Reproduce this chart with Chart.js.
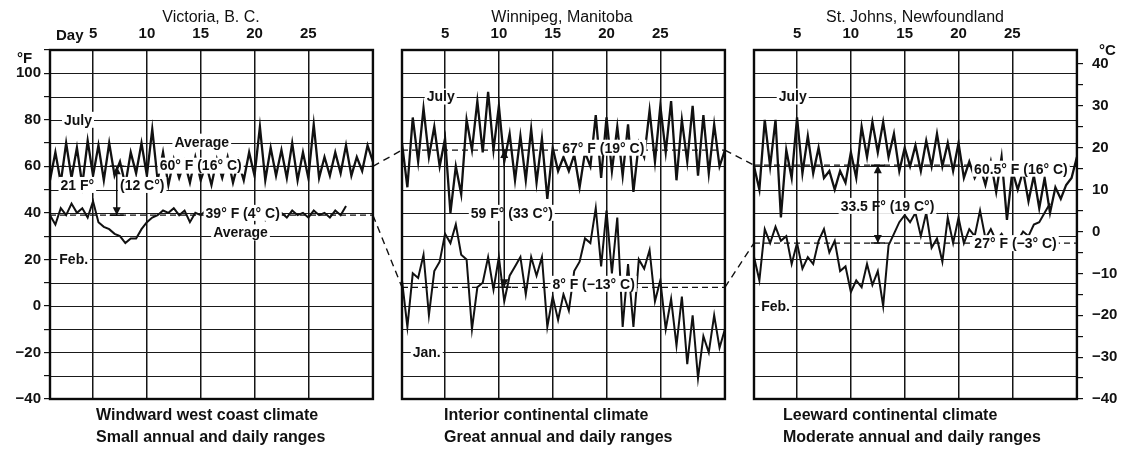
<!DOCTYPE html>
<html><head><meta charset="utf-8">
<script src="https://cdn.jsdelivr.net/npm/chart.js@4/dist/chart.umd.min.js"></script>
<style>
html,body{margin:0;padding:0;background:#fff;}
#wrap{position:relative;width:1132px;height:451px;font-family:"Liberation Sans",Arial,sans-serif;color:#111;overflow:hidden;}
#c{position:absolute;left:0;top:0;}
.t{position:absolute;white-space:nowrap;font-size:14px;line-height:16px;}
.title{transform:translateX(-50%);top:8px;font-size:16px;line-height:18px;}
.cap{font-size:16px;line-height:18px;font-weight:bold;}
.unit{font-size:15px;font-weight:bold;}
</style></head><body>
<div id="wrap">
<canvas id="c" width="1132" height="451"></canvas>
<div class="t title" style="left:211px">Victoria, B. C.</div>
<div class="t title" style="left:562px">Winnipeg, Manitoba</div>
<div class="t title" style="left:915px">St. Johns, Newfoundland</div>
<div class="t" style="left:56px;top:27px;font-size:15px;font-weight:bold">Day</div>
<div class="t unit" style="left:17px;top:50px">°F</div>
<div class="t unit" style="left:1099px;top:42px">°C</div>
<div class="t cap" style="left:96px;top:406px">Windward west coast climate</div>
<div class="t cap" style="left:96px;top:428px">Small annual and daily ranges</div>
<div class="t cap" style="left:444px;top:406px">Interior continental climate</div>
<div class="t cap" style="left:444px;top:428px">Great annual and daily ranges</div>
<div class="t cap" style="left:783px;top:406px">Leeward continental climate</div>
<div class="t cap" style="left:783px;top:428px">Moderate annual and daily ranges</div>
</div>
<script>
// ---- data (°F), two readings per day (alternating daily high / low) ----
const stations = ['Victoria, B. C.', 'Winnipeg, Manitoba', 'St. Johns, Newfoundland'];
const dayTicks = [5, 10, 15, 20, 25];
const leftTicksF = [100, 80, 60, 40, 20, 0, -20, -40];
const rightTicksC = [40, 30, 20, 10, 0, -10, -20, -30, -40];

const victoriaJuly = [54,66,53,70,55,68,52,71,56,69,
  54,70,56,62,52,66,57,70,56,76,
  54,66,52,63,55,62,53,64,54,61,
  52,63,55,64,53,62,54,66,56,77,
  54,68,56,67,55,70,54,66,55,78,
  55,64,56,66,57,69,56,64,58,69,
  62];
const victoriaFeb = [39,35,42,39,44,40,42,38,45,36,
  34,33,31,30,27,29,29,33,36,38,
  39,41,40,42,39,41,36,40,39,41,
  38,40,39,41,38,42,39,41,38,42,
  37,41,39,40,38,41,39,40,38,41,
  39,40,38,41,39,43];
const winnipegJuly = [70,51,81,62,85,64,77,60,72,40,
  60,48,80,67,88,66,92,67,86,62,
  74,54,73,54,76,53,72,46,68,58,
  64,58,65,51,66,60,82,55,81,58,
  77,56,78,49,70,64,84,62,86,66,
  88,54,80,62,86,56,82,57,78,60,
  67];
const winnipegJan = [11,-9,14,12,22,-4,15,19,31,27,
  35,22,20,-10,8,10,21,7,21,2,
  13,17,21,5,21,13,21,-9,4,-6,
  5,-2,15,19,29,27,42,17,41,14,
  38,-9,18,-9,20,16,24,2,11,-10,
  3,-17,4,-25,-4,-31,-13,-20,-4,-18,
  -10];
const stJohnsJuly = [60,50,80,60,80,38,67,55,81,57,
  73,57,68,55,58,50,58,53,66,55,
  77,64,79,66,79,64,74,58,68,60,
  69,58,71,60,74,60,70,58,70,55,
  62,55,60,52,62,49,64,37,58,50,
  58,45,56,42,55,40,51,46,52,55,
  64];
const stJohnsFeb = [21,11,33,27,34,28,30,18,27,16,
  21,18,28,33,23,28,15,17,6,11,
  8,18,9,15,0,26,31,36,39,36,
  40,30,40,25,29,19,38,27,38,27,
  33,30,41,29,33,28,31,27,30,28,
  32,30,35,36,40,44];
const summerSeries = [victoriaJuly, winnipegJuly, stJohnsJuly];
const winterSeries = [victoriaFeb, winnipegJan, stJohnsFeb];
const summerAverage = [60, 67, 60.5];
const winterAverage = [39, 8, 27];

// ---- layout ----
const OFFSETS = [0, 32.7, 65.4];
const FIRST_DAY = 1, LAST_DAY = 31;
const gx = (p, d) => d + OFFSETS[p];
const pts = (p, vals) => vals.map((v, i) => ({x: gx(p, FIRST_DAY + i * 0.5), y: v}));

const notes = [
  {p:0, d:3.6, v:80, text:'July'},
  {p:0, d:15.1, v:70.6, text:'Average'},
  {p:0, d:15.0, v:60.3, text:'60° F (16° C)'},
  {p:0, d:5.1, v:52, text:'21 F°', align:'right'},
  {p:0, d:7.5, v:52, text:'(12 C°)', align:'left'},
  {p:0, d:18.9, v:40, text:'39° F (4° C)'},
  {p:0, d:18.7, v:31.6, text:'Average'},
  {p:0, d:3.2, v:20, text:'Feb.'},
  {p:1, d:4.6, v:90, text:'July'},
  {p:1, d:19.7, v:68, text:'67° F (19° C)'},
  {p:1, d:11.2, v:40, text:'59 F° (33 C°)'},
  {p:1, d:18.8, v:9.5, text:'8° F (−13° C)'},
  {p:1, d:3.3, v:-20, text:'Jan.'},
  {p:2, d:4.6, v:90, text:'July'},
  {p:2, d:25.8, v:59, text:'60.5° F (16° C)'},
  {p:2, d:13.4, v:43, text:'33.5 F° (19 C°)'},
  {p:2, d:25.3, v:27, text:'27° F (−3° C)'},
  {p:2, d:3.0, v:0, text:'Feb.'}
];
const arrowDays = [7.2, 10.5, 12.5];

const datasets = [];
const ink = '#111111';
for (let p = 0; p < 3; p++) {
  datasets.push({label: stations[p] + ' July', data: pts(p, summerSeries[p]), borderColor: ink, borderWidth: 2.3});
  datasets.push({label: stations[p] + (p === 1 ? ' Jan.' : ' Feb.'), data: pts(p, winterSeries[p]), borderColor: ink, borderWidth: 2});
  datasets.push({label: 'avg s' + p, data: [{x: gx(p, FIRST_DAY), y: summerAverage[p]}, {x: gx(p, LAST_DAY), y: summerAverage[p]}], borderColor: ink, borderWidth: 1.3, borderDash: [6, 4]});
  datasets.push({label: 'avg w' + p, data: [{x: gx(p, FIRST_DAY), y: winterAverage[p]}, {x: gx(p, LAST_DAY), y: winterAverage[p]}], borderColor: ink, borderWidth: 1.3, borderDash: [6, 4]});
}
for (let p = 0; p < 2; p++) {
  datasets.push({label: 'link s' + p, data: [{x: gx(p, LAST_DAY), y: summerAverage[p]}, {x: gx(p + 1, FIRST_DAY), y: summerAverage[p + 1]}], borderColor: ink, borderWidth: 1.4, borderDash: [7, 5]});
  datasets.push({label: 'link w' + p, data: [{x: gx(p, LAST_DAY), y: winterAverage[p]}, {x: gx(p + 1, FIRST_DAY), y: winterAverage[p + 1]}], borderColor: ink, borderWidth: 1.4, borderDash: [7, 5]});
}

const xTicks = [];
for (let p = 0; p < 3; p++) dayTicks.forEach(d => xTicks.push({value: gx(p, d), label: String(d)}));

const labelFont = 'bold 14px "Liberation Sans", Arial, sans-serif';
const tickFont = {family: '"Liberation Sans", Arial, sans-serif', size: 15, weight: 'bold'};

const panelPlugin = {
  id: 'panels',
  beforeDatasetsDraw(chart) {
    const {ctx, scales: {x, y}} = chart;
    ctx.save();
    ctx.strokeStyle = '#1a1a1a';
    ctx.lineWidth = 1.2;
    for (let p = 0; p < 3; p++) {
      const l = x.getPixelForValue(gx(p, FIRST_DAY)), r = x.getPixelForValue(gx(p, LAST_DAY));
      for (let v = -30; v <= 100; v += 10) {
        const py = Math.round(y.getPixelForValue(v)) + 0.5;
        ctx.beginPath(); ctx.moveTo(l, py); ctx.lineTo(r, py); ctx.stroke();
      }
    }
    ctx.restore();
  },
  afterDatasetsDraw(chart) {
    const {ctx, scales: {x, y}} = chart;
    ctx.save();
    ctx.font = labelFont;
    ctx.textBaseline = 'middle';
    notes.forEach(n => {
      const px = x.getPixelForValue(gx(n.p, n.d)), py = y.getPixelForValue(n.v);
      const w = ctx.measureText(n.text).width;
      let left = px - w / 2;
      if (n.align === 'left') left = px;
      if (n.align === 'right') left = px - w;
      ctx.fillStyle = '#fff';
      ctx.fillRect(left - 2, py - 8, w + 4, 16);
      ctx.fillStyle = ink;
      ctx.textAlign = 'left';
      ctx.fillText(n.text, left, py + 1);
    });
    // range arrows between the two averages
    ctx.strokeStyle = ink; ctx.fillStyle = ink; ctx.lineWidth = 1.5;
    arrowDays.forEach((d, p) => {
      const px = x.getPixelForValue(gx(p, d));
      const top = y.getPixelForValue(summerAverage[p]), bot = y.getPixelForValue(winterAverage[p]);
      ctx.beginPath(); ctx.moveTo(px, top); ctx.lineTo(px, bot); ctx.stroke();
      ctx.beginPath(); ctx.moveTo(px, top); ctx.lineTo(px - 4, top + 8); ctx.lineTo(px + 4, top + 8); ctx.closePath(); ctx.fill();
      ctx.beginPath(); ctx.moveTo(px, bot); ctx.lineTo(px - 4, bot - 8); ctx.lineTo(px + 4, bot - 8); ctx.closePath(); ctx.fill();
      ctx.beginPath(); ctx.moveTo(px - 7, top); ctx.lineTo(px + 7, top); ctx.moveTo(px - 7, bot); ctx.lineTo(px + 7, bot); ctx.stroke();
    });
    // panel frames
    ctx.lineWidth = 2.4; ctx.strokeStyle = '#0a0a0a';
    for (let p = 0; p < 3; p++) {
      const l = x.getPixelForValue(gx(p, FIRST_DAY)), r = x.getPixelForValue(gx(p, LAST_DAY));
      const t = y.getPixelForValue(y.max), b = y.getPixelForValue(y.min);
      ctx.strokeRect(l, t, r - l, b - t);
    }
    ctx.restore();
  }
};

new Chart(document.getElementById('c'), {
  type: 'line',
  data: {datasets},
  options: {
    responsive: false, animation: false, devicePixelRatio: 1,
    layout: {padding: {top: 0, bottom: 52, left: 0, right: 0}},
    plugins: {legend: {display: false}, tooltip: {enabled: false}},
    elements: {point: {radius: 0}, line: {tension: 0}},
    scales: {
      x: {
        type: 'linear', position: 'top', min: 1, max: 96.5,
        afterBuildTicks(s) { s.ticks = xTicks.map(t => ({value: t.value})); },
        afterFit(s) { s.height = 50; },
        grid: {drawTicks: false, color: '#151515', lineWidth: 1.5},
        border: {display: false},
        ticks: {padding: 7, autoSkip: false, maxRotation: 0, color: ink, font: tickFont,
          callback: (v, i) => xTicks[i] ? xTicks[i].label : ''}
      },
      y: {
        position: 'left', min: -40, max: 110,
        ticks: {stepSize: 10, padding: 3, color: ink, font: tickFont,
          callback: v => leftTicksF.includes(v) ? (v < 0 ? '−' + Math.abs(v) : String(v)) : ''},
        afterFit(s) { s.width = 50; },
        grid: {drawOnChartArea: false, drawTicks: true, tickLength: 6, tickColor: ink, lineWidth: 1.2},
        border: {display: false}
      },
      yC: {
        position: 'right', min: -40, max: (110 - 32) / 1.8,
        ticks: {stepSize: 5, includeBounds: false, padding: 9, color: ink, font: tickFont,
          callback: v => rightTicksC.includes(v) ? (v < 0 ? '−' + Math.abs(v) : String(v)) : ''},
        afterFit(s) { s.width = 54; },
        grid: {drawOnChartArea: false, drawTicks: true, tickLength: 5, tickColor: ink, lineWidth: 1.2},
        border: {display: false}
      }
    }
  },
  plugins: [panelPlugin]
});
</script>
</body></html>
